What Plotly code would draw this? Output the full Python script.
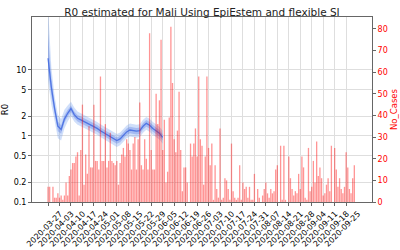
import plotly.graph_objects as go
import pandas as pd

chart_title = "R0 estimated for Mali Using EpiEstem and flexible SI"

# daily new cases, one value per day starting 2020-03-27
case_start = "2020-03-27"
cases = [
    7, 7, 0, 7, 2, 2, 4, 2, 3, 1, 3, 9, 3, 12, 15, 18, 18, 21, 23, 3, 24,
    45, 8, 22, 13, 35, 16, 16, 45, 19, 19, 15, 58, 19, 19, 36, 16, 19, 32, 19,
    18, 17, 19, 8, 18, 22, 25, 21, 29, 27, 24, 15, 27, 30, 15, 29, 46, 17,
    15, 29, 20, 15, 78, 24, 15, 15, 50, 36, 47, 75, 24, 38, 9, 14, 39, 81,
    55, 29, 23, 33, 51, 24, 5, 16, 16, 9, 0, 27, 21, 27, 34, 21, 58, 29, 26,
    8, 21, 58, 25, 17, 27, 1, 17, 6, 2, 34, 1, 2, 11, 10, 6, 1, 27, 5, 2, 1,
    2, 17, 1, 9, 6,
    7, 2, 7, 1, 1, 13, 0, 6, 2, 0, 3, 6, 9, 4, 2, 6, 4, 5, 15, 17, 0, 26, 1,
    26, 1, 0,
    21, 11, 6, 3, 5, 4, 13, 6, 21, 16, 2, 1, 25, 5, 7, 19, 9, 28, 12, 16, 11,
    3, 4, 8, 11, 5, 26, 0, 25, 15, 7, 11, 6, 4, 7, 23, 16, 6, 4, 11, 17,
]

# R0 estimates every 2 days starting 2020-03-27
r0_start = "2020-03-27"
r0_mid = [15, 5.5, 2.6, 1.4, 1.25, 1.8, 2.2, 2.6, 2.1, 1.85, 1.75, 1.65, 1.55,
          1.45, 1.4, 1.3, 1.2, 1.12, 1.05, 0.98, 0.92, 0.85, 0.9, 1.02, 1.15,
          1.23, 1.2, 1.18, 1.2, 1.4, 1.55, 1.45, 1.3, 1.2, 1.1, 0.95]
r0_hi_outer = [90, 11, 4.0, 2.1, 1.8, 2.5, 2.9, 3.3, 2.7, 2.35, 2.2, 2.07, 1.94,
               1.82, 1.75, 1.63, 1.5, 1.4, 1.32, 1.23, 1.15, 1.07, 1.13, 1.28,
               1.44, 1.54, 1.5, 1.48, 1.5, 1.75, 1.94, 1.82, 1.63, 1.5, 1.38, 1.2]
r0_lo_outer = [7, 3.0, 1.7, 0.92, 0.85, 1.3, 1.65, 2.0, 1.65, 1.47, 1.4, 1.32, 1.24,
               1.16, 1.12, 1.04, 0.96, 0.9, 0.84, 0.78, 0.74, 0.68, 0.72, 0.82,
               0.92, 0.98, 0.96, 0.94, 0.96, 1.12, 1.24, 1.16, 1.04, 0.96, 0.88, 0.76]
r0_hi_inner = [35, 7.5, 3.1, 1.65, 1.45, 2.05, 2.5, 2.9, 2.35, 2.07, 1.96, 1.85, 1.74,
               1.62, 1.57, 1.46, 1.34, 1.25, 1.18, 1.1, 1.03, 0.95, 1.01, 1.14,
               1.29, 1.38, 1.34, 1.32, 1.34, 1.57, 1.74, 1.62, 1.46, 1.34, 1.23, 1.06]
r0_lo_inner = [10, 4.1, 2.15, 1.18, 1.08, 1.58, 1.95, 2.3, 1.87, 1.65, 1.56, 1.47, 1.38,
               1.29, 1.25, 1.16, 1.07, 1.0, 0.94, 0.88, 0.82, 0.76, 0.8, 0.91,
               1.03, 1.1, 1.07, 1.05, 1.07, 1.25, 1.38, 1.29, 1.16, 1.07, 0.98, 0.85]

x_tick_labels = [
    "2020-03-27", "2020-04-03", "2020-04-10", "2020-04-17", "2020-04-24",
    "2020-05-01", "2020-05-08", "2020-05-15", "2020-05-22", "2020-05-29",
    "2020-06-05", "2020-06-12", "2020-06-19", "2020-06-26", "2020-07-03",
    "2020-07-10", "2020-07-17", "2020-07-24", "2020-07-31", "2020-08-07",
    "2020-08-14", "2020-08-21", "2020-08-28", "2020-09-04", "2020-09-11",
    "2020-09-18", "2020-09-25",
]
r0_ticks = [0.1, 0.2, 0.5, 1, 2, 5, 10]
r0_tick_text = ["0.1", "0.2", "0.5", "1", "2", "5", "10"]
case_ticks = [0, 10, 20, 30, 40, 50, 60, 70, 80]

case_dates = pd.date_range(case_start, periods=len(cases), freq="D")
r0_dates = pd.date_range(r0_start, periods=len(r0_mid), freq="2D")

fig = go.Figure()
# outer band
fig.add_trace(go.Scatter(x=r0_dates, y=r0_hi_outer, mode="lines", line=dict(width=0),
                         hoverinfo="skip", yaxis="y"))
fig.add_trace(go.Scatter(x=r0_dates, y=r0_lo_outer, mode="lines", line=dict(width=0),
                         fill="tonexty", fillcolor="rgba(100,149,237,0.30)", yaxis="y"))
# inner band
fig.add_trace(go.Scatter(x=r0_dates, y=r0_hi_inner, mode="lines", line=dict(width=0),
                         hoverinfo="skip", yaxis="y"))
fig.add_trace(go.Scatter(x=r0_dates, y=r0_lo_inner, mode="lines", line=dict(width=0),
                         fill="tonexty", fillcolor="rgba(65,105,225,0.30)", yaxis="y"))
fig.add_trace(go.Scatter(x=r0_dates, y=r0_mid, mode="lines",
                         line=dict(color="rgba(65,105,225,0.85)", width=1.3), yaxis="y"))
fig.add_trace(go.Bar(x=case_dates, y=cases, yaxis="y2",
                     marker=dict(color="rgba(255,0,0,0.42)", line=dict(width=0)),
                     width=0.8 * 86400000))

fig.update_layout(
    width=400, height=250,
    margin=dict(l=32, r=28, t=17, b=48, autoexpand=False),
    plot_bgcolor="white", paper_bgcolor="white",
    showlegend=False,
    font=dict(family="DejaVu Sans", size=8, color="black"),
    title=dict(text=chart_title, x=0.5, xref="paper", xanchor="center",
               y=1 - 12.5 / 250, yref="container", yanchor="middle",
               font=dict(size=10.5, color="#222")),
    xaxis=dict(
        type="date", automargin=False,
        range=["2020-03-17 05:00", "2020-10-10 19:00"],
        tickvals=x_tick_labels, ticktext=x_tick_labels,
        tickangle=-45, tickfont=dict(size=8), ticklabelshift=12,
        showgrid=True, gridcolor="#dedede", gridwidth=1,
        showline=True, mirror=True, linecolor="#666", linewidth=1,
        ticks="outside", ticklen=3, tickcolor="#666",
    ),
    yaxis=dict(
        type="log", range=[-1, 1.8], automargin=False,
        tickvals=r0_ticks, ticktext=r0_tick_text,
        showgrid=True, gridcolor="#dedede", gridwidth=1,
        showline=True, linecolor="#666", linewidth=1,
        ticks="outside", ticklen=3, tickcolor="#666",
        title=dict(text="R0", font=dict(size=8.5), standoff=4),
        zeroline=False,
    ),
    yaxis2=dict(
        overlaying="y", side="right", range=[0, 85.5], automargin=False,
        tickvals=case_ticks,
        tickfont=dict(color="red", size=8),
        title=dict(text="No_Cases", font=dict(size=8.5, color="red"), standoff=4),
        showgrid=False, zeroline=False,
        showline=True, linecolor="#666", linewidth=1,
        ticks="outside", ticklen=3, tickcolor="#666",
    ),
)

fig.write_html("out.html")
